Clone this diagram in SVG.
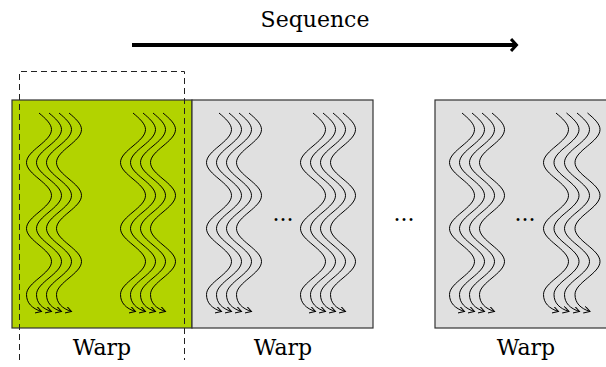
<svg xmlns="http://www.w3.org/2000/svg" width="606" height="367" viewBox="0 0 606 367">
<style>
.box{stroke:#333;stroke-width:1.2}
.g{fill:#b2d300}
.n{fill:#e0e0e0}
.w{fill:none;stroke:#000;stroke-width:1;marker-end:url(#ah)}
.t{font-family:"DejaVu Serif","Liberation Serif",serif;font-size:22px;fill:#000;text-anchor:middle}
.d{fill:none;stroke:#222;stroke-width:1;stroke-dasharray:6,4}
</style>
<defs>
<marker id="ah" markerWidth="9" markerHeight="9" refX="6" refY="3.5" orient="auto" markerUnits="userSpaceOnUse">
<path d="M0,0 L6,3.5 L0,7" fill="none" stroke="#000" stroke-width="1"/>
</marker>
<marker id="bh" markerWidth="12" markerHeight="16" refX="6" refY="7" orient="auto" markerUnits="userSpaceOnUse">
<path d="M1,1 L6.5,7 L1,13" fill="none" stroke="#000" stroke-width="3"/>
</marker>
</defs>

<g id="title">
<text class="t" x="315" y="27">Sequence</text>
</g>

<g id="warp1">
<rect class="box g" x="12" y="100" width="180" height="228"/>
<g transform="translate(0,113)">
<path class="w" transform="translate(39,0)" d="M0,0 C6.4,5.38 12.5,10.77 12.5,16.5 C12.5,28.5 -12.5,37.5 -12.5,49.5 S12.5,70.5 12.5,82.5 S-12.5,103.5 -12.5,115.5 S12.5,136.5 12.5,148.5 S-12.5,169.5 -12.5,181.5 C-12.5,190 -7,195.5 2.5,198.5"/>
<path class="w" transform="translate(49,0)" d="M0,0 C6.4,5.38 12.5,10.77 12.5,16.5 C12.5,28.5 -12.5,37.5 -12.5,49.5 S12.5,70.5 12.5,82.5 S-12.5,103.5 -12.5,115.5 S12.5,136.5 12.5,148.5 S-12.5,169.5 -12.5,181.5 C-12.5,190 -7,195.5 2.5,198.5"/>
<path class="w" transform="translate(59,0)" d="M0,0 C6.4,5.38 12.5,10.77 12.5,16.5 C12.5,28.5 -12.5,37.5 -12.5,49.5 S12.5,70.5 12.5,82.5 S-12.5,103.5 -12.5,115.5 S12.5,136.5 12.5,148.5 S-12.5,169.5 -12.5,181.5 C-12.5,190 -7,195.5 2.5,198.5"/>
<path class="w" transform="translate(69,0)" d="M0,0 C6.4,5.38 12.5,10.77 12.5,16.5 C12.5,28.5 -12.5,37.5 -12.5,49.5 S12.5,70.5 12.5,82.5 S-12.5,103.5 -12.5,115.5 S12.5,136.5 12.5,148.5 S-12.5,169.5 -12.5,181.5 C-12.5,190 -7,195.5 2.5,198.5"/>
<path class="w" transform="translate(133,0)" d="M0,0 C6.4,5.38 12.5,10.77 12.5,16.5 C12.5,28.5 -12.5,37.5 -12.5,49.5 S12.5,70.5 12.5,82.5 S-12.5,103.5 -12.5,115.5 S12.5,136.5 12.5,148.5 S-12.5,169.5 -12.5,181.5 C-12.5,190 -7,195.5 2.5,198.5"/>
<path class="w" transform="translate(143,0)" d="M0,0 C6.4,5.38 12.5,10.77 12.5,16.5 C12.5,28.5 -12.5,37.5 -12.5,49.5 S12.5,70.5 12.5,82.5 S-12.5,103.5 -12.5,115.5 S12.5,136.5 12.5,148.5 S-12.5,169.5 -12.5,181.5 C-12.5,190 -7,195.5 2.5,198.5"/>
<path class="w" transform="translate(153,0)" d="M0,0 C6.4,5.38 12.5,10.77 12.5,16.5 C12.5,28.5 -12.5,37.5 -12.5,49.5 S12.5,70.5 12.5,82.5 S-12.5,103.5 -12.5,115.5 S12.5,136.5 12.5,148.5 S-12.5,169.5 -12.5,181.5 C-12.5,190 -7,195.5 2.5,198.5"/>
<path class="w" transform="translate(163,0)" d="M0,0 C6.4,5.38 12.5,10.77 12.5,16.5 C12.5,28.5 -12.5,37.5 -12.5,49.5 S12.5,70.5 12.5,82.5 S-12.5,103.5 -12.5,115.5 S12.5,136.5 12.5,148.5 S-12.5,169.5 -12.5,181.5 C-12.5,190 -7,195.5 2.5,198.5"/>
</g>
<text class="t" x="102" y="355">Warp</text>
</g>

<g id="warp2">
<rect class="box n" x="192" y="100" width="181" height="228"/>
<g transform="translate(0,113)">
<path class="w" transform="translate(219,0)" d="M0,0 C6.4,5.38 12.5,10.77 12.5,16.5 C12.5,28.5 -12.5,37.5 -12.5,49.5 S12.5,70.5 12.5,82.5 S-12.5,103.5 -12.5,115.5 S12.5,136.5 12.5,148.5 S-12.5,169.5 -12.5,181.5 C-12.5,190 -7,195.5 2.5,198.5"/>
<path class="w" transform="translate(229,0)" d="M0,0 C6.4,5.38 12.5,10.77 12.5,16.5 C12.5,28.5 -12.5,37.5 -12.5,49.5 S12.5,70.5 12.5,82.5 S-12.5,103.5 -12.5,115.5 S12.5,136.5 12.5,148.5 S-12.5,169.5 -12.5,181.5 C-12.5,190 -7,195.5 2.5,198.5"/>
<path class="w" transform="translate(239,0)" d="M0,0 C6.4,5.38 12.5,10.77 12.5,16.5 C12.5,28.5 -12.5,37.5 -12.5,49.5 S12.5,70.5 12.5,82.5 S-12.5,103.5 -12.5,115.5 S12.5,136.5 12.5,148.5 S-12.5,169.5 -12.5,181.5 C-12.5,190 -7,195.5 2.5,198.5"/>
<path class="w" transform="translate(249,0)" d="M0,0 C6.4,5.38 12.5,10.77 12.5,16.5 C12.5,28.5 -12.5,37.5 -12.5,49.5 S12.5,70.5 12.5,82.5 S-12.5,103.5 -12.5,115.5 S12.5,136.5 12.5,148.5 S-12.5,169.5 -12.5,181.5 C-12.5,190 -7,195.5 2.5,198.5"/>
<path class="w" transform="translate(313,0)" d="M0,0 C6.4,5.38 12.5,10.77 12.5,16.5 C12.5,28.5 -12.5,37.5 -12.5,49.5 S12.5,70.5 12.5,82.5 S-12.5,103.5 -12.5,115.5 S12.5,136.5 12.5,148.5 S-12.5,169.5 -12.5,181.5 C-12.5,190 -7,195.5 2.5,198.5"/>
<path class="w" transform="translate(323,0)" d="M0,0 C6.4,5.38 12.5,10.77 12.5,16.5 C12.5,28.5 -12.5,37.5 -12.5,49.5 S12.5,70.5 12.5,82.5 S-12.5,103.5 -12.5,115.5 S12.5,136.5 12.5,148.5 S-12.5,169.5 -12.5,181.5 C-12.5,190 -7,195.5 2.5,198.5"/>
<path class="w" transform="translate(333,0)" d="M0,0 C6.4,5.38 12.5,10.77 12.5,16.5 C12.5,28.5 -12.5,37.5 -12.5,49.5 S12.5,70.5 12.5,82.5 S-12.5,103.5 -12.5,115.5 S12.5,136.5 12.5,148.5 S-12.5,169.5 -12.5,181.5 C-12.5,190 -7,195.5 2.5,198.5"/>
<path class="w" transform="translate(343,0)" d="M0,0 C6.4,5.38 12.5,10.77 12.5,16.5 C12.5,28.5 -12.5,37.5 -12.5,49.5 S12.5,70.5 12.5,82.5 S-12.5,103.5 -12.5,115.5 S12.5,136.5 12.5,148.5 S-12.5,169.5 -12.5,181.5 C-12.5,190 -7,195.5 2.5,198.5"/>
</g>
<text class="t" x="283" y="221">...</text>
<text class="t" x="283" y="355">Warp</text>
</g>

<g id="gap">
<text class="t" x="404" y="221">...</text>
</g>

<g id="warp3">
<rect class="box n" x="435" y="100" width="181" height="228"/>
<g transform="translate(0,113)">
<path class="w" transform="translate(462,0)" d="M0,0 C6.4,5.38 12.5,10.77 12.5,16.5 C12.5,28.5 -12.5,37.5 -12.5,49.5 S12.5,70.5 12.5,82.5 S-12.5,103.5 -12.5,115.5 S12.5,136.5 12.5,148.5 S-12.5,169.5 -12.5,181.5 C-12.5,190 -7,195.5 2.5,198.5"/>
<path class="w" transform="translate(472,0)" d="M0,0 C6.4,5.38 12.5,10.77 12.5,16.5 C12.5,28.5 -12.5,37.5 -12.5,49.5 S12.5,70.5 12.5,82.5 S-12.5,103.5 -12.5,115.5 S12.5,136.5 12.5,148.5 S-12.5,169.5 -12.5,181.5 C-12.5,190 -7,195.5 2.5,198.5"/>
<path class="w" transform="translate(482,0)" d="M0,0 C6.4,5.38 12.5,10.77 12.5,16.5 C12.5,28.5 -12.5,37.5 -12.5,49.5 S12.5,70.5 12.5,82.5 S-12.5,103.5 -12.5,115.5 S12.5,136.5 12.5,148.5 S-12.5,169.5 -12.5,181.5 C-12.5,190 -7,195.5 2.5,198.5"/>
<path class="w" transform="translate(492,0)" d="M0,0 C6.4,5.38 12.5,10.77 12.5,16.5 C12.5,28.5 -12.5,37.5 -12.5,49.5 S12.5,70.5 12.5,82.5 S-12.5,103.5 -12.5,115.5 S12.5,136.5 12.5,148.5 S-12.5,169.5 -12.5,181.5 C-12.5,190 -7,195.5 2.5,198.5"/>
<path class="w" transform="translate(556,0)" d="M0,0 C6.4,5.38 12.5,10.77 12.5,16.5 C12.5,28.5 -12.5,37.5 -12.5,49.5 S12.5,70.5 12.5,82.5 S-12.5,103.5 -12.5,115.5 S12.5,136.5 12.5,148.5 S-12.5,169.5 -12.5,181.5 C-12.5,190 -7,195.5 2.5,198.5"/>
<path class="w" transform="translate(566.5,0)" d="M0,0 C6.4,5.38 12.5,10.77 12.5,16.5 C12.5,28.5 -12.5,37.5 -12.5,49.5 S12.5,70.5 12.5,82.5 S-12.5,103.5 -12.5,115.5 S12.5,136.5 12.5,148.5 S-12.5,169.5 -12.5,181.5 C-12.5,190 -7,195.5 2.5,198.5"/>
<path class="w" transform="translate(577,0)" d="M0,0 C6.4,5.38 12.5,10.77 12.5,16.5 C12.5,28.5 -12.5,37.5 -12.5,49.5 S12.5,70.5 12.5,82.5 S-12.5,103.5 -12.5,115.5 S12.5,136.5 12.5,148.5 S-12.5,169.5 -12.5,181.5 C-12.5,190 -7,195.5 2.5,198.5"/>
<path class="w" transform="translate(587.5,0)" d="M0,0 C6.4,5.38 12.5,10.77 12.5,16.5 C12.5,28.5 -12.5,37.5 -12.5,49.5 S12.5,70.5 12.5,82.5 S-12.5,103.5 -12.5,115.5 S12.5,136.5 12.5,148.5 S-12.5,169.5 -12.5,181.5 C-12.5,190 -7,195.5 2.5,198.5"/>
</g>
<text class="t" x="525" y="221">...</text>
<text class="t" x="526" y="355">Warp</text>
</g>

<g id="connectors">
<path d="M132,45 L516,45" fill="none" stroke="#000" stroke-width="4" marker-end="url(#bh)"/>
<path class="d" d="M19.5,360 L19.5,71.5 L184.5,71.5 L184.5,360"/>
</g>
</svg>
